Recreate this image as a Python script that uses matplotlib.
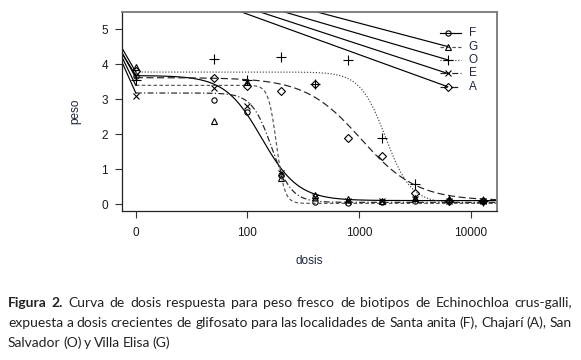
import numpy as np
import matplotlib
matplotlib.use('Agg')
import matplotlib.pyplot as plt

# datos (dosis 0 se dibuja en 10, como en drc)
dosis = [0, 50, 100, 200, 400, 800, 1600, 3200, 6400, 12800]
peso_F = [3.68, 2.98, 2.63, 0.83, 0.07, 0.04, 0.06, 0.08, 0.10, 0.08]
peso_G = [3.93, 2.39, 3.50, 0.74, 0.26, 0.15, 0.10, 0.18, 0.15, 0.12]
peso_O = [3.55, 4.15, 3.55, 4.20, 3.43, 4.12, 1.88, 0.57, 0.12, 0.10]
peso_E = [3.10, 3.31, 2.80, 0.88, 0.20, 0.08, 0.08, 0.14, 0.08, 0.10]
peso_A = [3.82, 3.61, 3.38, 3.25, 3.43, 1.88, 1.38, 0.31, 0.10, 0.08]

# parametros log-logisticos (b, c, d, e) estimados a ojo
par_F = (2.65, 0.10, 3.68, 134)
par_G = (12.0, 0.02, 3.40, 182)
par_O = (3.8, 0.03, 3.78, 1730)
par_E = (4.9, 0.05, 3.18, 165)
par_A = (1.74, 0.10, 3.62, 1043)

# valor de las curvas en el borde izquierdo del grafico
borde_izq = {'F': 4.34, 'G': 4.22, 'O': 4.48, 'E': 4.08, 'A': 4.34}

# lineas rectas que salen de arriba hacia la leyenda
inicio_lineas = {'G': 243, 'O': 131, 'E': 83.6, 'A': 59.3}

etiquetas = ['F', 'G', 'O', 'E', 'A']
leyenda_y = [4.89, 4.51, 4.13, 3.74, 3.36]

xmin, xmax = 7.48, 17100
ymin, ymax = -0.19, 5.49


def ll4(x, par):
    b, c, d, e = par
    return c + (d - c) / (1 + np.exp(b * (np.log(x) - np.log(e))))


series = {
    'F': (peso_F, par_F, '-', 'o', 3.8, 'black'),
    'G': (peso_G, par_G, (0, (3, 2)), '^', 5.0, '#555555'),
    'O': (peso_O, par_O, (0, (1, 1.5)), '+', 6.5, '#444444'),
    'E': (peso_E, par_E, (0, (5, 2, 1, 2)), 'x', 5.0, '#222222'),
    'A': (peso_A, par_A, (0, (6, 3)), 'D', 4.3, '#222222'),
}

fig = plt.figure(figsize=(5.81, 3.60), dpi=100)
ax = fig.add_axes([0.2095, 0.4147, 0.6455, 0.5511])

x_plot = [10 if d == 0 else d for d in dosis]
xx = np.logspace(1, np.log10(xmax), 400)

for lab in etiquetas:
    vals, par, ls, mk, ms, col = series[lab]
    ax.plot(xx, ll4(xx, par), ls=ls, color=col, lw=0.85)
    ax.plot([xmin, 10], [borde_izq[lab], par[2]], color='black', lw=0.85)
    ax.plot(x_plot, vals, ls='none', marker=mk, ms=ms, mfc='none',
            mec='black', mew=0.8)

# leyenda dibujada a mano
for lab, yl in zip(etiquetas, leyenda_y):
    vals, par, ls, mk, ms, col = series[lab]
    ax.plot([5270, 8130], [yl, yl], ls=ls, color=col, lw=0.85)
    ax.plot([6220], [yl], marker=mk, ms=ms, mfc='none', mec='black', mew=0.8)
    ax.text(9600, yl, lab, fontsize=8.5, family='Liberation Sans',
            color='#1d2640', va='center', ha='left')
    if lab in inicio_lineas:
        ax.plot([inicio_lineas[lab], 6220], [5.7, yl], color='black', lw=0.85)

ax.set_xscale('log')
ax.set_xlim(xmin, xmax)
ax.set_ylim(ymin, ymax)
ax.set_xticks([10, 100, 1000, 10000])
ax.set_xticklabels(['0', '100', '1000', '10000'])
ax.xaxis.set_minor_locator(matplotlib.ticker.NullLocator())
ax.set_yticks([0, 1, 2, 3, 4, 5])
ax.tick_params(axis='both', labelsize=8.5, length=5, width=0.8, color='#333333')
ax.tick_params(axis='x', pad=7)
ax.tick_params(axis='y', pad=5)
for t in ax.get_xticklabels() + ax.get_yticklabels():
    t.set_family('Liberation Sans')
    t.set_color('#1a1a1a')

for s in ['left', 'bottom']:
    ax.spines[s].set_color('#222222')
    ax.spines[s].set_linewidth(0.9)
for s in ['top', 'right']:
    ax.spines[s].set_color('#777777')
    ax.spines[s].set_linewidth(1.3)

ax.set_xlabel('dosis', fontsize=8.5, family='Liberation Sans', color='#1d2640', labelpad=11)
ax.set_ylabel('peso', fontsize=8.5, family='Liberation Sans', color='#1d2640', labelpad=14)

# pie de figura justificado
renderer = fig.canvas.get_renderer()
lineas = [
    [('Figura', 'bold'), ('2.', 'bold')] + [(w, 'normal') for w in
        'Curva de dosis respuesta para peso fresco de biotipos de Echinochloa crus-galli,'.split()],
    [(w, 'normal') for w in
        'expuesta a dosis crecientes de glifosato para las localidades de Santa anita (F), Chajarí (A), San'.split()],
    [(w, 'normal') for w in 'Salvador (O) y Villa Elisa (G)'.split()],
]
x0, x1 = 8, 572
W, H = fig.get_size_inches() * fig.dpi
base_y = [307, 327, 347]
for i, (palabras, yb) in enumerate(zip(lineas, base_y)):
    textos = []
    anchos = []
    for w, peso in palabras:
        t = fig.text(0, 1 - yb / H, w, fontsize=10.0, family='Lato',
                     weight=peso, color='#222222', va='baseline')
        bb = t.get_window_extent(renderer)
        textos.append(t)
        anchos.append(bb.width)
    if i < 2:
        hueco = (x1 - x0 - sum(anchos)) / (len(anchos) - 1)
    else:
        hueco = 2.6
    x = x0
    for t, a in zip(textos, anchos):
        t.set_x(x / W)
        x += a + hueco

fig.savefig('out.png', dpi=100)
